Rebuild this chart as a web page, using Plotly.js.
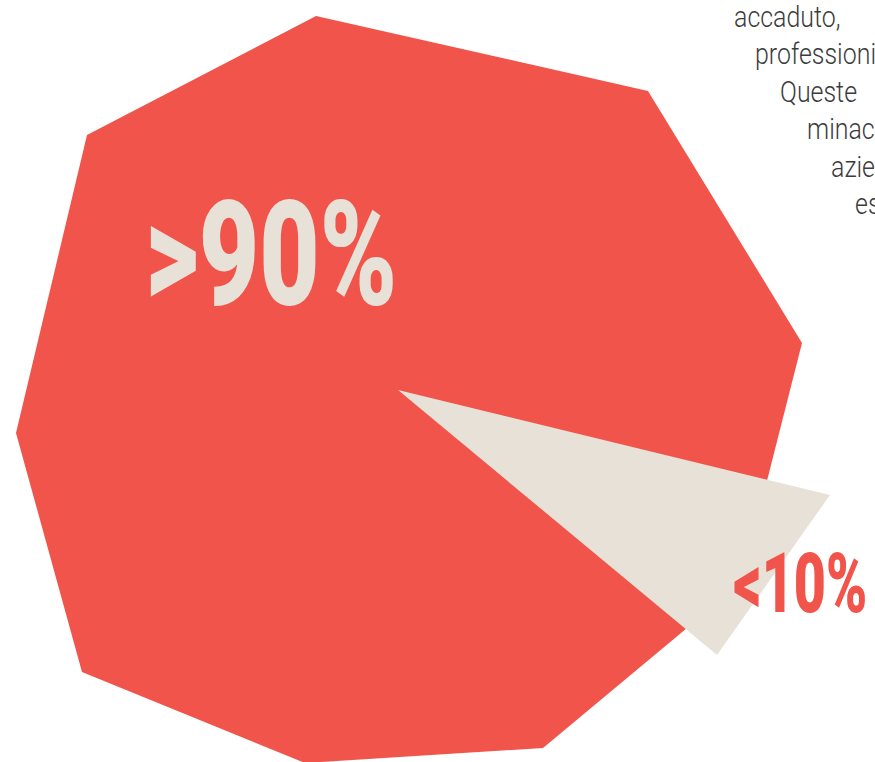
<!DOCTYPE html>
<html>
<head>
<meta charset="utf-8">
<script src="https://cdn.plot.ly/plotly-3.0.1.min.js"></script>
<style>
  html, body { margin: 0; padding: 0; background: #ffffff; overflow: hidden; }
  #chart { width: 875px; height: 762px; }
</style>
</head>
<body>
<div id="chart"></div>
<script>
// Slice labels
const sliceLabels = ['>90%', '<10%'];

// Large slice: irregular nine-sided outline (vertices)
const bigSliceX = [316, 648, 802, 741, 543, 305, 82, 16, 87];
const bigSliceY = [16, 91, 343, 583, 748, 763, 672, 433, 135];

// Small slice: wedge from the centre out past the outline
const smallSliceX = [398, 830, 717];
const smallSliceY = [390, 495, 655];

// Label anchor points
const labelX = [271, 800];
const labelY = [255, 583];
const labelWidth = [252, 134];

// Body text lines (cut by the right edge)
const textLines = ['accaduto,', 'professionisti', 'Queste', 'minacce', 'aziende', 'esposte'];
const textLineX = [732, 753, 778, 805, 829, 853];
const textLineBaseline = [27, 64, 101.7, 139, 176.7, 214];

const RED = '#F0544A';
const BEIGE = '#E8E1D7';
const TEXT = '#3C3C3C';

const traces = [
  {
    type: 'scatter', mode: 'lines', x: bigSliceX, y: bigSliceY,
    fill: 'toself', fillcolor: RED, line: { width: 0, color: RED },
    hoverinfo: 'skip', name: sliceLabels[0], showlegend: false
  },
  {
    type: 'scatter', mode: 'lines', x: smallSliceX, y: smallSliceY,
    fill: 'toself', fillcolor: BEIGE, line: { width: 0, color: BEIGE },
    hoverinfo: 'skip', name: sliceLabels[1], showlegend: false
  }
];

const bodySize = 29;
const annotations = [
  {
    x: labelX[0], y: labelY[0], xref: 'x', yref: 'y', text: sliceLabels[0],
    showarrow: false, xanchor: 'center', yanchor: 'middle',
    font: { family: 'Roboto, Liberation Sans, sans-serif', size: 146, color: BEIGE, weight: 900 }
  },
  {
    x: labelX[1], y: labelY[1], xref: 'x', yref: 'y', text: sliceLabels[1],
    showarrow: false, xanchor: 'center', yanchor: 'middle',
    font: { family: 'Roboto, Liberation Sans, sans-serif', size: 84, color: RED, weight: 900 }
  }
];
textLines.forEach((t, i) => {
  annotations.push({
    x: textLineX[i], y: textLineBaseline[i] - 0.35 * bodySize, xref: 'x', yref: 'y',
    text: t, showarrow: false, xanchor: 'left', yanchor: 'middle',
    font: { family: 'Roboto, Liberation Sans, sans-serif', size: bodySize, color: TEXT, weight: 300 }
  });
});

const layout = {
  width: 875, height: 762,
  margin: { l: 0, r: 0, t: 0, b: 0, pad: 0 },
  paper_bgcolor: '#ffffff', plot_bgcolor: '#ffffff',
  xaxis: { range: [0, 875], visible: false, fixedrange: true },
  yaxis: { range: [762, 0], visible: false, fixedrange: true },
  showlegend: false,
  annotations: annotations
};

Plotly.newPlot('chart', traces, layout, { displayModeBar: false, staticPlot: true }).then(() => {
  const texts = document.querySelectorAll('.annotation-text');
  // Condense the two big percentage labels horizontally to the target widths
  [0, 1].forEach(i => {
    const el = texts[i];
    if (!el) return;
    const bb = el.getBBox();
    const cx = bb.x + bb.width / 2;
    const s = labelWidth[i] / bb.width;
    el.setAttribute('transform', `translate(${cx},0) scale(${s},1) translate(${-cx},0)`);
  });
  // Condense the body text lines slightly, keeping their left edges
  for (let i = 2; i < texts.length; i++) {
    const el = texts[i];
    const bb = el.getBBox();
    const lx = bb.x;
    const s = 0.86;
    el.setAttribute('transform', `translate(${lx},0) scale(${s},1) translate(${-lx},0)`);
  }
});
</script>
</body>
</html>
